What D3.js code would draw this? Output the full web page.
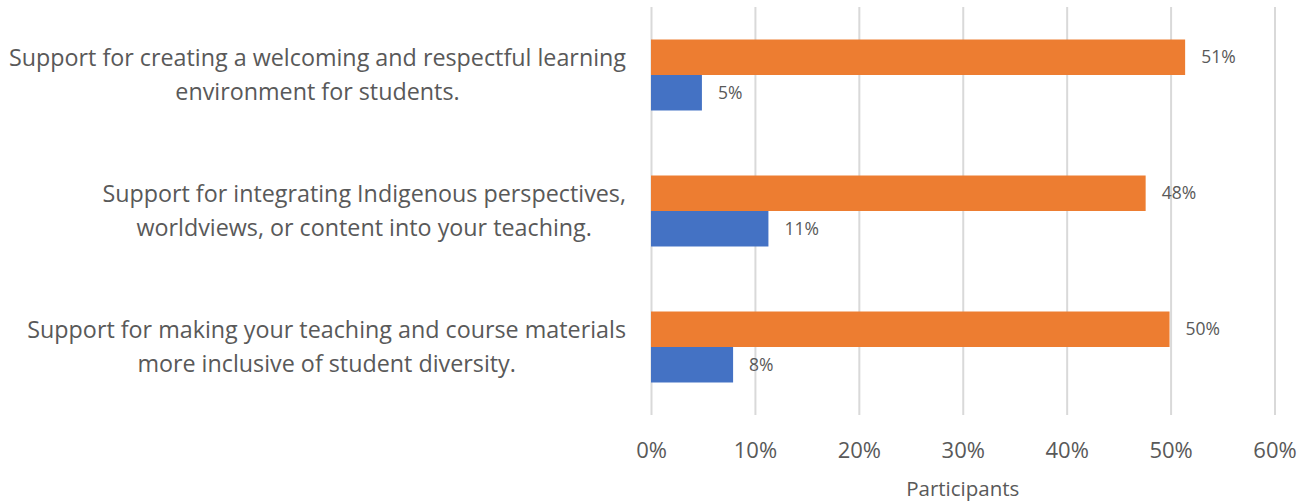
<!DOCTYPE html>
<html lang="en">
  <head>
    <meta charset="UTF-8" />
    <title>Support needs bar chart</title>
    <script src="https://cdn.jsdelivr.net/npm/d3@7/dist/d3.min.js"></script>
    <style>
      body {
        margin: 0;
        background-color: #ffffff;
        font-family: "Open Sans", sans-serif;
      }
      #support_bar_chart {
        width: 1312px;
        height: 504px;
      }
    </style>
  </head>
  <body>
    <div id="support_bar_chart"></div>

    <script>
      // Categories (each split into the two lines shown)
      const categories = [
        ["Support for creating a welcoming and respectful learning", "environment for students."],
        ["Support for integrating Indigenous perspectives,", "worldviews, or content into your teaching."],
        ["Support for making your teaching and course materials", "more inclusive of student diversity."],
      ];
      const seriesNames = ["orange", "blue"];
      const orangeValues = [51.4, 47.6, 49.9];
      const blueValues = [4.9, 11.3, 7.9];
      const tickValues = [0, 10, 20, 30, 40, 50, 60];
      const axisTitle = "Participants";

      plotChart();

      function plotChart() {
        const element_id = "div#support_bar_chart";
        const width = 1312;
        const height = 504;
        const textColor = "#595959";
        const colors = { orange: "#ED7D31", blue: "#4472C4" };

        const svg = d3
          .select(element_id)
          .append("svg")
          .attr("width", width)
          .attr("height", height);

        const x = d3.scaleLinear().domain([0, 60]).range([651, 1274.5]);

        const y = d3
          .scaleBand()
          .domain(d3.range(categories.length))
          .range([7, 415])
          .paddingInner(0.478)
          .paddingOuter(0.239);

        const ySub = d3
          .scaleBand()
          .domain(seriesNames)
          .range([0, y.bandwidth()]);

        // Gridlines + tick labels
        const xAxis = svg
          .append("g")
          .attr("transform", `translate(0, 415)`)
          .call(
            d3
              .axisBottom(x)
              .tickValues(tickValues)
              .tickFormat((d) => d + "%")
              .tickSizeInner(-408)
              .tickSizeOuter(0)
              .tickPadding(27)
          );
        xAxis.select(".domain").remove();
        xAxis
          .selectAll(".tick line")
          .attr("stroke", "#D9D9D9")
          .attr("stroke-width", 2);
        xAxis
          .selectAll(".tick text")
          .attr("fill", textColor)
          .style("font-family", '"Open Sans", sans-serif')
          .style("font-size", "22px");

        // Axis title
        svg
          .append("text")
          .attr("x", x(30))
          .attr("y", 489)
          .attr("dy", "0.35em")
          .attr("text-anchor", "middle")
          .attr("fill", textColor)
          .style("font-size", "20.5px")
          .text(axisTitle);

        // Bars
        const seriesData = [
          { name: "orange", values: orangeValues },
          { name: "blue", values: blueValues },
        ];

        seriesData.forEach((s) => {
          svg
            .append("g")
            .selectAll("rect")
            .data(s.values)
            .enter()
            .append("rect")
            .attr("x", x(0))
            .attr("y", (d, i) => y(i) + ySub(s.name))
            .attr("width", (d) => x(d) - x(0))
            .attr("height", ySub.bandwidth())
            .attr("fill", colors[s.name]);

          svg
            .append("g")
            .selectAll("text")
            .data(s.values)
            .enter()
            .append("text")
            .attr("x", (d) => x(d) + 16)
            .attr("y", (d, i) => y(i) + ySub(s.name) + ySub.bandwidth() / 2)
            .attr("dy", "0.35em")
            .attr("fill", textColor)
            .style("font-size", "17.5px")
            .text((d) => Math.round(d) + "%");
        });

        // Category labels, each block centred, right edge at 626
        const labelRight = 626;
        categories.forEach((lines, i) => {
          const g = svg.append("g");
          const texts = g
            .selectAll("text")
            .data(lines)
            .enter()
            .append("text")
            .attr("text-anchor", "middle")
            .attr("y", (d, j) => y(i) + y.bandwidth() / 2 + (j - 0.5) * 34)
            .attr("dy", "0.35em")
            .attr("fill", textColor)
            .style("font-size", "23.3px")
            .text((d) => d);
          const maxW = d3.max(texts.nodes(), (n) => n.getComputedTextLength());
          texts.attr("x", labelRight - maxW / 2);
        });
      }
    </script>
  </body>
</html>
